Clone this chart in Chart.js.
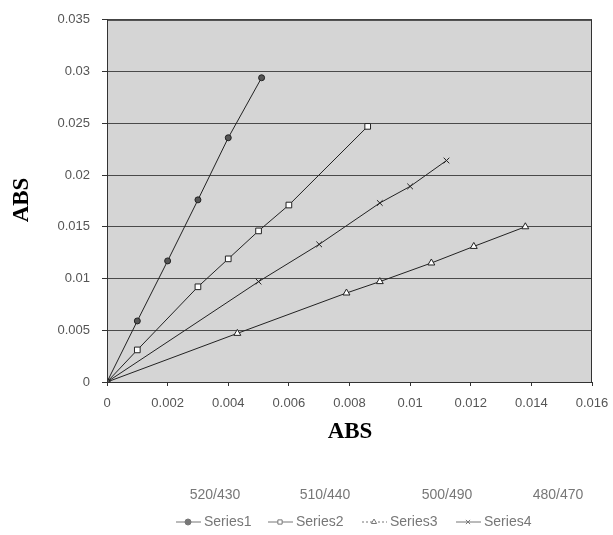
<!DOCTYPE html>
<html>
<head>
<meta charset="utf-8">
<script src="https://cdn.jsdelivr.net/npm/chart.js@4.4.1/dist/chart.umd.min.js"></script>
<style>
  body { margin: 0; background: #fff; }
  #wrap { width: 613px; height: 535px; }
</style>
</head>
<body>
<div id="wrap"><canvas id="absChart" width="613" height="535"></canvas></div>
<script>
// values
const seriesNames = ["Series1", "Series2", "Series3", "Series4"];
const wavelengths = ["520/430", "510/440", "500/490", "480/470"];

const s1X = [0, 0.001, 0.002, 0.003, 0.004, 0.0051];
const s1Y = [0, 0.0059, 0.0117, 0.0176, 0.0236, 0.0294];

const s2X = [0, 0.001, 0.003, 0.004, 0.005, 0.006, 0.0086];
const s2Y = [0, 0.0031, 0.0092, 0.0119, 0.0146, 0.0171, 0.0247];

const s3X = [0, 0.0043, 0.0079, 0.009, 0.0107, 0.0121, 0.0138];
const s3Y = [0, 0.0047, 0.0086, 0.0097, 0.0115, 0.0131, 0.015];

const s4X = [0, 0.005, 0.007, 0.009, 0.010, 0.0112];
const s4Y = [0, 0.0097, 0.0133, 0.0173, 0.0189, 0.0214];

const xMax = 0.016, xStep = 0.002;
const yMax = 0.035, yStep = 0.005;

const toPts = (xs, ys) => xs.map((x, i) => ({ x, y: ys[i] }));
const fmt = v => String(Number(v.toFixed(4)));

const styles = [
    { pointStyle: "circle",   radius: 3, fill: "#555" },
    { pointStyle: "rect",     radius: 4, fill: "#fff" },
    { pointStyle: "triangle", radius: 4, fill: "#fff" },
    { pointStyle: "crossRot", radius: 4, fill: "#fff" }
];
const allX = [s1X, s2X, s3X, s4X];
const allY = [s1Y, s2Y, s3Y, s4Y];

const datasets = seriesNames.map((name, i) => ({
    label: name,
    data: toPts(allX[i], allY[i]),
    showLine: true,
    borderColor: "#222",
    borderWidth: 1,
    backgroundColor: styles[i].fill,
    pointStyle: styles[i].pointStyle,
    pointRadius: styles[i].radius,
    pointBorderColor: "#222",
    pointBorderWidth: 1
}));

const tickFont = { family: "'Liberation Sans', Arial, sans-serif", size: 13 };

/* ---- tło wykresu, ramka, tytuły osi i dwurzędowa legenda ---- */
const decor = {
    id: "decor",
    beforeDraw(chart) {
        const { ctx, chartArea: a } = chart;
        ctx.save();
        ctx.fillStyle = "#d5d5d5";
        ctx.fillRect(a.left, a.top, a.right - a.left, a.bottom - a.top);
        ctx.restore();
    },
    afterDraw(chart) {
        const { ctx, chartArea: a } = chart;
        ctx.save();
        ctx.strokeStyle = "#333";
        ctx.lineWidth = 1;
        ctx.strokeRect(a.left + 0.5, a.top + 0.5, a.right - a.left - 1, a.bottom - a.top);
        ctx.restore();

        ctx.save();
        ctx.fillStyle = "#000";
        ctx.font = "bold 23px 'Liberation Serif', 'Times New Roman', serif";
        ctx.textAlign = "center";
        ctx.textBaseline = "middle";
        ctx.fillText("ABS", 350, 432);
        ctx.translate(22, 200);
        ctx.rotate(-Math.PI / 2);
        ctx.fillText("ABS", 0, 0);
        ctx.restore();

        ctx.save();
        ctx.font = "14px 'Liberation Sans', Arial, sans-serif";
        ctx.fillStyle = "#777";
        ctx.textBaseline = "middle";
        ctx.textAlign = "center";
        const wlX = [215, 325, 447, 558];
        wavelengths.forEach((w, i) => ctx.fillText(w, wlX[i], 495));

        const lgX = [176, 268, 362, 456];
        ctx.textAlign = "left";
        seriesNames.forEach((name, i) => {
            const x0 = lgX[i], y = 522;
            ctx.strokeStyle = "#777";
            ctx.lineWidth = 1;
            ctx.setLineDash(i === 2 ? [2, 2] : []);
            ctx.beginPath();
            ctx.moveTo(x0, y);
            ctx.lineTo(x0 + 25, y);
            ctx.stroke();
            ctx.setLineDash([]);
            ctx.fillStyle = styles[i].fill === "#555" ? "#777" : "#fff";
            Chart.helpers.drawPoint(ctx, {
                pointStyle: styles[i].pointStyle,
                radius: 3,
                rotation: 0,
                borderWidth: 1
            }, x0 + 12, y);
            ctx.fillStyle = "#777";
            ctx.fillText(name, x0 + 28, y);
        });
        ctx.restore();
    }
};

new Chart(document.getElementById("absChart"), {
    type: "scatter",
    data: { datasets },
    options: {
        responsive: false,
        animation: false,
        layout: { padding: { top: 18, right: 21, left: 0, bottom: 0 } },
        plugins: { legend: { display: false }, tooltip: { enabled: false } },
        scales: {
            x: {
                type: "linear",
                min: 0, max: xMax,
                afterFit: s => { s.height = 153; s.paddingRight = 0; s.paddingLeft = 0; },
                grid: { display: true, drawOnChartArea: false, tickLength: 4, color: "#333" },
                border: { display: true, color: "#333", width: 1 },
                ticks: {
                    stepSize: xStep,
                    padding: 10,
                    color: "#555",
                    font: tickFont,
                    maxRotation: 0,
                    callback: v => fmt(v)
                }
            },
            y: {
                type: "linear",
                min: 0, max: yMax,
                afterFit: s => { s.width = 107; },
                grid: {
                    color: "#4a4a4a",
                    lineWidth: 1,
                    tickLength: 5,
                    tickColor: "#333"
                },
                border: { display: true, color: "#333", width: 1, dash: [] },
                ticks: {
                    stepSize: yStep,
                    padding: 12,
                    color: "#555",
                    font: tickFont,
                    callback: v => fmt(v)
                }
            }
        }
    },
    plugins: [decor]
});
</script>
</body>
</html>
